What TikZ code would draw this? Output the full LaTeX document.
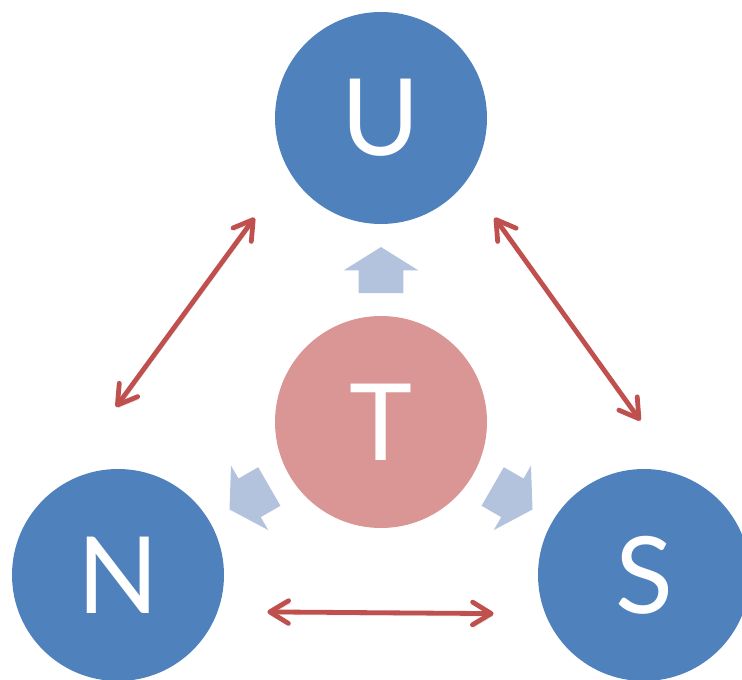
\documentclass[tikz,border=0pt]{standalone}
\usepackage{fontspec}
\newfontfamily\letterfont{Lato}
\usetikzlibrary{arrows.meta,shapes.arrows}

\definecolor{ringblue}{RGB}{79,129,189}
\definecolor{corepink}{RGB}{217,150,148}
\definecolor{linkred}{RGB}{192,80,77}
\definecolor{pushblue}{RGB}{179,195,222}

\begin{document}
\begin{tikzpicture}[x=0.75pt,y=0.75pt]
\useasboundingbox (0,0) rectangle (742,-680);
\clip (0,0) rectangle (742,-680);

\begin{scope}[every node/.style={circle,minimum size=159pt,inner sep=0pt,
              text=white,font=\letterfont\fontsize{80}{80}\selectfont}]
    \node[fill=ringblue] (U) at (381,-118) {U};
	\node[fill=corepink] (T) at (381,-422) {T};
	\node[fill=ringblue] (N) at (118,-575) {N};
	\node[fill=ringblue] (S) at (644,-575) {S};
\end{scope}

\begin{scope}[every node/.style={single arrow,fill=pushblue,
              inner xsep=0pt,inner ysep=16.5pt,text width=0pt,text height=0pt,text depth=0pt,
              minimum height=34.5pt,
              single arrow head extend=11.25pt,single arrow tip angle=116}]
    \node[rotate=90] (toU) at ([shift={(90:145)}]T.center) {};
	\node[rotate=210] (toN) at ([shift={(210:145)}]T.center) {};
	\node[rotate=330] (toS) at ([shift={(330:145)}]T.center) {};
\end{scope}

\coordinate (nu-n) at (116,-407);
\coordinate (nu-u) at (254.6,-217.7);
\coordinate (us-u) at (494.6,-217.7);
\coordinate (us-s) at (640.3,-420.6);
\coordinate (ns-n) at (267.4,-611.9);
\coordinate (ns-s) at (493.6,-613.6);

\begin{scope}[>={Straight Barb[length=14pt,width=17pt,round]},
              every edge/.style={draw=linkred,line width=3.6pt,line cap=round,
                preaction={draw=black,opacity=0.12,transform canvas={xshift=1pt,yshift=-2pt}}}]
    \path [<->] (nu-n) edge (nu-u);
    \path [<->] (us-u) edge (us-s);
    \path [<->] (ns-n) edge (ns-s);
\end{scope}
\end{tikzpicture}
\end{document}
